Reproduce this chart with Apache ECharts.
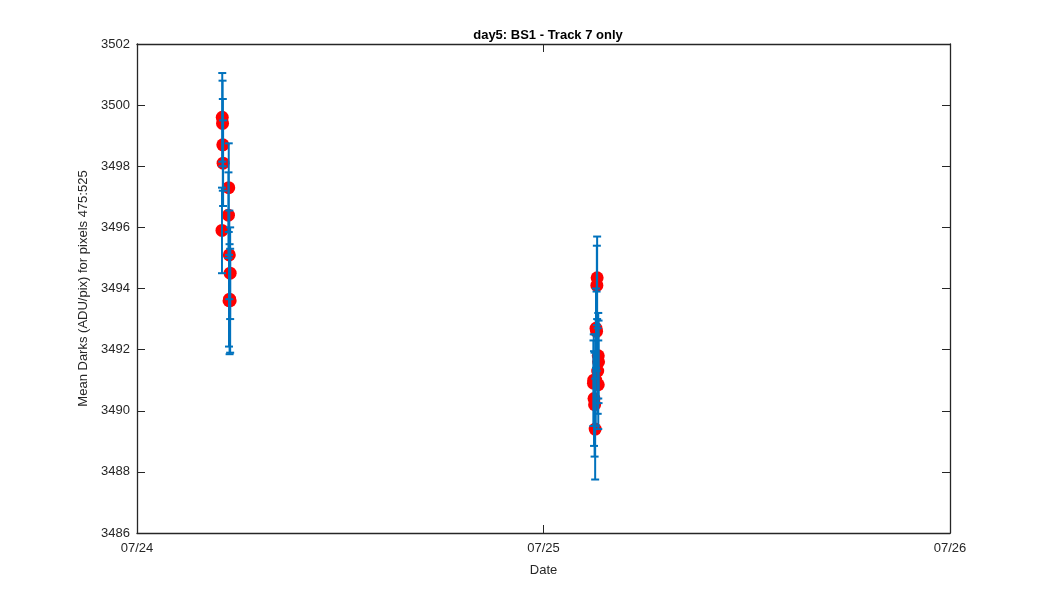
<!DOCTYPE html>
<html>
<head>
<meta charset="utf-8">
<script src="https://cdn.jsdelivr.net/npm/echarts@6/dist/echarts.min.js"></script>
<style>html,body{margin:0;padding:0;background:#fff}#c{width:1050px;height:600px}</style>
</head>
<body>
<div id="c"></div>
<script>
// Observation times, mean dark values and their error half-widths
const times = [
  '2016-07-24 05:02','2016-07-24 05:03','2016-07-24 05:04','2016-07-24 05:05','2016-07-24 05:01',
  '2016-07-24 05:25','2016-07-24 05:24','2016-07-24 05:27','2016-07-24 05:30','2016-07-24 05:26',
  '2016-07-24 05:30','2016-07-24 05:28',
  '2016-07-25 03:10','2016-07-25 03:09','2016-07-25 03:06','2016-07-25 03:14','2016-07-25 03:15',
  '2016-07-25 03:12','2016-07-25 02:58','2016-07-25 02:57','2016-07-25 03:14','2016-07-25 02:59',
  '2016-07-25 03:01','2016-07-25 03:03','2016-07-25 03:08','2016-07-25 03:05'
];
const means = [
  3499.6, 3499.4, 3498.7, 3498.1, 3495.9,
  3497.3, 3496.4, 3495.1, 3494.5, 3493.6,
  3493.6, 3493.65,
  3494.35, 3494.1, 3492.7, 3491.8, 3491.6,
  3491.3, 3491.0, 3490.9, 3490.85, 3490.4,
  3490.2, 3489.4, 3492.6, 3491.0
];
const errs = [
  1.45, 1.4, 1.5, 1.4, 1.4,
  1.45, 1.4, 1.45, 1.5, 1.5,
  1.7, 1.8,
  1.35, 1.3, 1.3, 1.4, 1.35,
  1.4, 1.5, 1.4, 1.45, 1.55,
  1.7, 1.65, 1.3, 1.5
];
const xTickLabels = ['07/24', '07/25', '07/26'];
const xStart = '2016-07-24 00:00';
const xEnd = '2016-07-26 00:00';
const yMin = 3486, yMax = 3502, yStep = 2;

function toMs(s) {
  const [d, t] = s.split(' ');
  const [Y, M, D] = d.split('-').map(Number);
  const [h, m] = t.split(':').map(Number);
  return Date.UTC(Y, M - 1, D, h, m);
}
const DAY = 86400000;
const x0 = toMs(xStart), x1 = toMs(xEnd);

const pts = times.map((t, i) => [toMs(t), means[i]]);
const bars = times.map((t, i) => [toMs(t), means[i] - errs[i], means[i] + errs[i]]);

const FONT = 'Liberation Sans, Arial, sans-serif';
const AX = '#262626';
const BLUE = '#0072BD';

function xFmt(v) {
  const idx = Math.round((v - x0) / DAY);
  return xTickLabels[idx] !== undefined ? xTickLabels[idx] : '';
}

const chart = echarts.init(document.getElementById('c'), null, {renderer: 'canvas'});
chart.setOption({
  animation: false,
  backgroundColor: '#fff',
  title: {
    text: 'day5: BS1 - Track 7 only',
    left: 543, top: 24, textAlign: 'center',
    textStyle: {fontFamily: FONT, fontSize: 13, fontWeight: 'bold', color: '#000'}
  },
  grid: {left: 137, right: 100, top: 44, bottom: 67, containLabel: false},
  xAxis: [{
    type: 'value', min: x0, max: x1, interval: DAY,
    name: 'Date', nameLocation: 'middle', nameGap: 31,
    nameTextStyle: {fontFamily: FONT, fontSize: 13, color: AX},
    axisLine: {show: true, onZero: false, lineStyle: {color: AX, width: 1.3}},
    axisTick: {show: true, inside: true, length: 8, lineStyle: {color: AX}},
    axisLabel: {formatter: xFmt, fontFamily: FONT, fontSize: 13, color: AX, margin: 9},
    splitLine: {show: false}
  }, {
    type: 'value', position: 'top', min: x0, max: x1, interval: DAY,
    axisLine: {show: true, onZero: false, lineStyle: {color: AX, width: 1.3}},
    axisTick: {show: true, inside: true, length: 8, lineStyle: {color: AX}},
    axisLabel: {show: false}, splitLine: {show: false}
  }],
  yAxis: [{
    type: 'value', min: yMin, max: yMax, interval: yStep,
    name: 'Mean Darks (ADU/pix) for pixels 475:525', nameLocation: 'middle', nameGap: 44,
    nameTextStyle: {fontFamily: FONT, fontSize: 13, color: AX},
    axisLine: {show: true, onZero: false, lineStyle: {color: AX, width: 1.3}},
    axisTick: {show: true, inside: true, length: 8, lineStyle: {color: AX}},
    axisLabel: {formatter: v => String(v), fontFamily: FONT, fontSize: 13, color: AX, margin: 7},
    splitLine: {show: false}
  }, {
    type: 'value', position: 'right', min: yMin, max: yMax, interval: yStep,
    axisLine: {show: true, onZero: false, lineStyle: {color: AX, width: 1.3}},
    axisTick: {show: true, inside: true, length: 8, lineStyle: {color: AX}},
    axisLabel: {show: false}, splitLine: {show: false}
  }],
  series: [{
    type: 'scatter', data: pts, symbol: 'circle', symbolSize: 13,
    itemStyle: {color: '#ff0000', opacity: 1}, z: 2
  }, {
    type: 'custom', data: bars, z: 3,
    encode: {x: 0, y: [1, 2]},
    renderItem: function (params, api) {
      const x = api.value(0), lo = api.value(1), hi = api.value(2);
      const a = api.coord([x, hi]), b = api.coord([x, lo]);
      const w = 4;
      const st = {stroke: BLUE, lineWidth: 2, fill: null};
      return {type: 'group', children: [
        {type: 'line', shape: {x1: a[0], y1: a[1], x2: b[0], y2: b[1]}, style: st},
        {type: 'line', shape: {x1: a[0] - w, y1: a[1], x2: a[0] + w, y2: a[1]}, style: st},
        {type: 'line', shape: {x1: b[0] - w, y1: b[1], x2: b[0] + w, y2: b[1]}, style: st}
      ]};
    }
  }]
});
</script>
</body>
</html>
